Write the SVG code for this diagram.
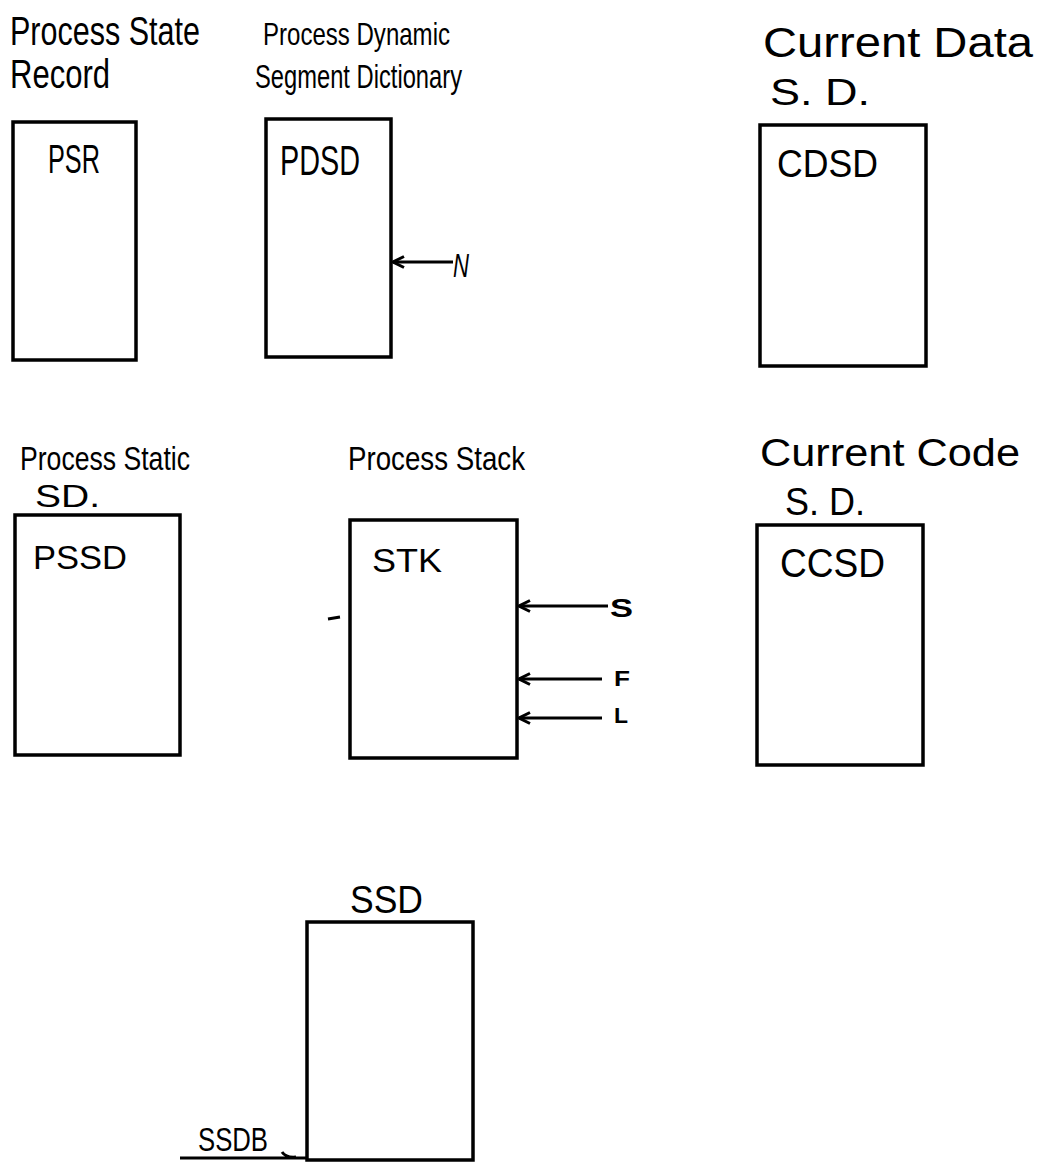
<svg xmlns="http://www.w3.org/2000/svg" width="1049" height="1164" viewBox="0 0 1049 1164">
<style>
.box{fill:#fff;stroke:#000;stroke-width:3.5}
.t{font-family:"Liberation Sans","DejaVu Sans",sans-serif;fill:#000}
.conn{stroke:#000;stroke-width:3;fill:none}
</style>
<defs>
<marker id="ah" markerWidth="16" markerHeight="14" refX="13" refY="7" orient="auto" markerUnits="userSpaceOnUse">
<path d="M2,1.5 L13,7 L2,12.5" fill="none" stroke="#000" stroke-width="3" stroke-linejoin="miter"/>
</marker>
</defs>
<rect width="1049" height="1164" fill="#fff"/>

<g id="psr">
<text class="t" x="10" y="45" font-size="40" textLength="190" lengthAdjust="spacingAndGlyphs">Process State</text>
<text class="t" x="10" y="88" font-size="40" textLength="100" lengthAdjust="spacingAndGlyphs">Record</text>
<rect class="box" x="13" y="122" width="123" height="238"/>
<text class="t" x="48" y="173" font-size="40" textLength="52" lengthAdjust="spacingAndGlyphs">PSR</text>
</g>

<g id="pdsd">
<text class="t" x="263" y="45" font-size="32" textLength="187" lengthAdjust="spacingAndGlyphs">Process Dynamic</text>
<text class="t" x="255" y="88" font-size="34" textLength="207" lengthAdjust="spacingAndGlyphs">Segment Dictionary</text>
<rect class="box" x="266" y="119" width="125" height="238"/>
<text class="t" x="280" y="175" font-size="42" textLength="80" lengthAdjust="spacingAndGlyphs">PDSD</text>
</g>

<g id="cdsd">
<text class="t" x="763" y="57" font-size="42" textLength="270" lengthAdjust="spacingAndGlyphs">Current Data</text>
<text class="t" x="770" y="105" font-size="36" textLength="100" lengthAdjust="spacingAndGlyphs">S. D.</text>
<rect class="box" x="760" y="125" width="166" height="241"/>
<text class="t" x="777" y="177" font-size="39" textLength="101" lengthAdjust="spacingAndGlyphs">CDSD</text>
</g>

<g id="pssd">
<text class="t" x="20" y="470" font-size="34" textLength="170" lengthAdjust="spacingAndGlyphs">Process Static</text>
<text class="t" x="35" y="507" font-size="32" textLength="65" lengthAdjust="spacingAndGlyphs">SD.</text>
<rect class="box" x="15" y="515" width="165" height="240"/>
<text class="t" x="33" y="569" font-size="33" textLength="94" lengthAdjust="spacingAndGlyphs">PSSD</text>
</g>

<g id="stk">
<text class="t" x="348" y="470" font-size="34" textLength="177" lengthAdjust="spacingAndGlyphs">Process Stack</text>
<rect class="box" x="350" y="520" width="167" height="238"/>
<text class="t" x="372" y="572" font-size="33" textLength="70" lengthAdjust="spacingAndGlyphs">STK</text>
<line x1="328" y1="619" x2="340" y2="617" stroke="#000" stroke-width="3"/>
</g>

<g id="ccsd">
<text class="t" x="760" y="466" font-size="38" textLength="260" lengthAdjust="spacingAndGlyphs">Current Code</text>
<text class="t" x="785" y="515" font-size="38" textLength="80" lengthAdjust="spacingAndGlyphs">S. D.</text>
<rect class="box" x="757" y="525" width="166" height="240"/>
<text class="t" x="780" y="577" font-size="40" textLength="105" lengthAdjust="spacingAndGlyphs">CCSD</text>
</g>

<g id="ssd">
<text class="t" x="350" y="913" font-size="38" textLength="73" lengthAdjust="spacingAndGlyphs">SSD</text>
<rect class="box" x="307" y="922" width="166" height="238"/>
</g>

<g id="ssdb">
<text class="t" x="198" y="1151" font-size="34" textLength="70" lengthAdjust="spacingAndGlyphs">SSDB</text>
<path d="M180,1158 L306,1158 M282,1152 Q286,1158 296,1157" stroke="#000" stroke-width="3" fill="none"/>
</g>

<g id="pointer-labels">
<text class="t" x="453" y="277" font-size="34" font-style="italic" textLength="16" lengthAdjust="spacingAndGlyphs">N</text>
<text class="t" x="610" y="617" font-size="26" font-weight="bold" textLength="23" lengthAdjust="spacingAndGlyphs">S</text>
<text class="t" x="614" y="686" font-size="22" font-weight="bold" textLength="16" lengthAdjust="spacingAndGlyphs">F</text>
<text class="t" x="614" y="723" font-size="22" font-weight="bold" textLength="14" lengthAdjust="spacingAndGlyphs">L</text>
</g>

<g id="connectors">
<line class="conn" x1="453" y1="262" x2="393" y2="262" marker-end="url(#ah)"/>
<line class="conn" x1="608" y1="606" x2="519" y2="606" marker-end="url(#ah)"/>
<line class="conn" x1="602" y1="679" x2="519" y2="679" marker-end="url(#ah)"/>
<line class="conn" x1="602" y1="718" x2="519" y2="718" marker-end="url(#ah)"/>
</g>
</svg>
